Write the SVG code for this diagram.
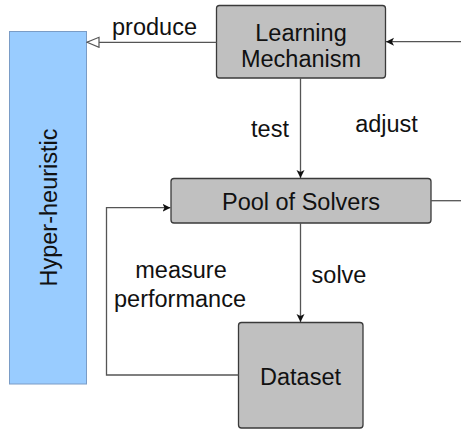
<svg xmlns="http://www.w3.org/2000/svg" width="461" height="429" viewBox="0 0 461 429">
<style>
.box{fill:#c0c0c0;stroke:#3a3a3a;stroke-width:1.3}
.t{font-family:"Liberation Sans",Arial,sans-serif;font-size:23.5px;fill:#111}
.c{stroke:#555;stroke-width:1.3;fill:none}
</style>
<defs>
<marker id="open" markerWidth="14" markerHeight="12" refX="13" refY="6" orient="auto" markerUnits="userSpaceOnUse">
<path d="M13,6 L1,1 L1,11 Z" fill="#fff" stroke="#555" stroke-width="1.2"/>
</marker>
<marker id="fill" markerWidth="10" markerHeight="10" refX="8" refY="5" orient="auto" markerUnits="userSpaceOnUse">
<path d="M8,5 L0,1 L2,5 L0,9 Z" fill="#111"/>
</marker>
</defs>
<g id="hyper">
<rect x="9.5" y="31.5" width="77" height="352.5" fill="#99ccff" stroke="#7a9cc6" stroke-width="1"/>
<text class="t" transform="translate(57,207.5) rotate(-90)" text-anchor="middle">Hyper-heuristic</text>
</g>
<g id="learning">
<rect class="box" x="216.5" y="5.5" width="169" height="72.5" rx="3"/>
<text class="t" x="301" y="40.5" text-anchor="middle">Learning</text>
<text class="t" x="301" y="66.5" text-anchor="middle">Mechanism</text>
</g>
<g id="pool">
<rect class="box" x="171" y="178.5" width="260" height="44.5" rx="3"/>
<text class="t" x="301" y="210" text-anchor="middle">Pool of Solvers</text>
</g>
<g id="dataset">
<rect class="box" x="238.5" y="322.5" width="124.5" height="105.5" rx="3"/>
<text class="t" x="300.5" y="385" text-anchor="middle">Dataset</text>
</g>
<g id="connectors">
<path class="c" d="M216.5,42.3 L87,42.3" marker-end="url(#open)"/>
<path class="c" d="M461,41.7 L386,41.7" marker-end="url(#fill)"/>
<path class="c" d="M300.5,78 L300.5,178" marker-end="url(#fill)"/>
<path class="c" d="M431,200.7 L461,200.7"/>
<path class="c" d="M300.5,223 L300.5,322" marker-end="url(#fill)"/>
<path class="c" d="M238.5,375 L106.5,375 L106.5,207.7 L170.5,207.7" marker-end="url(#fill)"/>
</g>
<g id="labels">
<text class="t" x="154.5" y="35" text-anchor="middle">produce</text>
<text class="t" x="270" y="136.5" text-anchor="middle">test</text>
<text class="t" x="386.5" y="132" text-anchor="middle">adjust</text>
<text class="t" x="181" y="278" text-anchor="middle">measure</text>
<text class="t" x="180" y="306.5" text-anchor="middle">performance</text>
<text class="t" x="339" y="283" text-anchor="middle">solve</text>
</g>
</svg>
